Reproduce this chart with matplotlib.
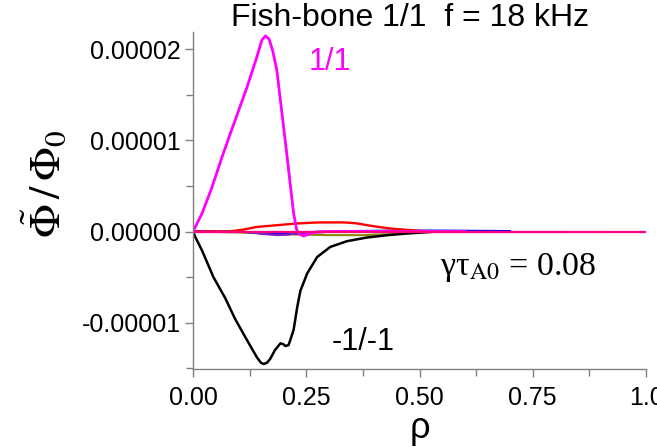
import matplotlib
matplotlib.use("Agg")
import matplotlib.pyplot as plt
from matplotlib.ticker import MultipleLocator, FormatStrFormatter

plt.rcParams['font.family'] = ['Liberation Sans', 'DejaVu Sans']
plt.rcParams['mathtext.fontset'] = 'stix'

# ---- data (values in units of 1e-5) ----
rho_11 = [0, 0.02, 0.04, 0.067, 0.09, 0.119, 0.14, 0.152, 0.16, 0.168, 0.176, 0.185,
          0.195, 0.207, 0.215, 0.222, 0.229, 0.236, 0.244, 0.255, 0.265, 0.30, 0.45, 0.60]
phi_11 = [0, 0.20, 0.46, 0.86, 1.18, 1.58, 1.90, 2.10, 2.145, 2.11, 1.98, 1.77,
          1.35, 0.85, 0.50, 0.20, 0.015, -0.03, -0.05, -0.03, -0.01, 0, 0, 0]

rho_m1 = [0, 0.005, 0.02, 0.045, 0.071, 0.093, 0.119, 0.141, 0.150, 0.156, 0.163, 0.170, 0.181,
          0.193, 0.199, 0.204, 0.211, 0.222, 0.230, 0.237, 0.252, 0.274, 0.303, 0.34,
          0.384, 0.43, 0.472, 0.54]
phi_m1 = [0, -0.06, -0.21, -0.50, -0.73, -0.96, -1.19, -1.38, -1.44, -1.453, -1.44, -1.40, -1.30,
          -1.227, -1.235, -1.256, -1.245, -1.08, -0.83, -0.65, -0.46, -0.28, -0.169, -0.106,
          -0.066, -0.04, -0.022, 0]

rho_red = [0, 0.08, 0.11, 0.141, 0.185, 0.229, 0.274, 0.333, 0.36, 0.398, 0.435, 0.472, 0.51, 0.55]
phi_red = [0, 0.0, 0.02, 0.05, 0.069, 0.088, 0.099, 0.100, 0.09, 0.058, 0.033, 0.018, 0.005, 0]

rho_blue = [0, 0.10, 0.14, 0.18, 0.22, 0.26, 0.35, 0.45, 0.55, 0.70]
phi_blue = [0, 0, -0.015, -0.025, -0.025, -0.01, 0.005, 0.01, 0.01, 0.005]

rho_purp = [0, 0.12, 0.15, 0.185, 0.21, 0.235, 0.28, 0.40]
phi_purp = [0, -0.005, -0.025, -0.04, -0.035, -0.015, 0, 0]

rho_olive = [0, 0.10, 0.20, 0.30, 0.38, 0.45, 0.50]
phi_olive = [0, -0.01, -0.03, -0.04, -0.04, -0.025, 0]

rho_steel = [0.30, 0.50, 0.70, 0.91]
phi_steel = [0, 0, 0, 0]

rho_maroon = [0, 0.25, 0.50, 0.817]
phi_maroon = [0, 0, 0, 0]

rho_pink = [0, 0.25, 0.50, 0.75, 1.0]
phi_pink = [0, 0, 0, 0, 0]

xtick_vals = [0, 0.25, 0.5, 0.75, 1.0]
xtick_labels = ['0.00', '0.25', '0.50', '0.75', '1.0']

scale = 1e-5

fig = plt.figure(figsize=(6.57, 4.47), dpi=100)
ax = fig.add_axes([0.2938, 0.1745, 0.6895, 0.7535])

def s(v):
    return [x * scale for x in v]

ax.plot(rho_olive, s(phi_olive), color='#8a8a00', lw=1.5)
ax.plot(rho_steel, s(phi_steel), color='#6b80b8', lw=1.5)
ax.plot(rho_blue, s(phi_blue), color='#0000ff', lw=1.5)
ax.plot(rho_purp, s(phi_purp), color='#8020c0', lw=1.5)
ax.plot(rho_maroon, s(phi_maroon), color='#c02060', lw=1.5)
ax.plot(rho_red, s(phi_red), color='#ff0000', lw=1.7)
ax.plot(rho_m1, s(phi_m1), color='black', lw=1.8)
ax.plot(rho_11, s(phi_11), color='#ff00ff', lw=2.0)
ax.plot(rho_pink, s(phi_pink), color='#ff0080', lw=1.6)

ax.set_xlim(0, 1.0)
ax.set_ylim(-1.508e-5, 2.186e-5)
ax.xaxis.set_minor_locator(MultipleLocator(0.125))
ax.yaxis.set_major_locator(MultipleLocator(1e-5))
ax.yaxis.set_minor_locator(MultipleLocator(0.5e-5))
ax.yaxis.set_major_formatter(FormatStrFormatter('%.5f'))
ax.set_xticks(xtick_vals)
ax.set_xticklabels(xtick_labels)

for sp in ['top', 'right']:
    ax.spines[sp].set_visible(False)
for sp in ['left', 'bottom']:
    ax.spines[sp].set_color('#808080')
    ax.spines[sp].set_linewidth(1.0)
ax.tick_params(which='both', direction='out', color='#808080', width=1.0, labelsize=18)
ax.tick_params(which='major', length=6)
ax.tick_params(which='minor', length=5)
ax.tick_params(axis='y', pad=3)
ax.tick_params(axis='x', pad=6)

ax.set_xlabel('ρ', fontsize=26, labelpad=1)
fig.text(0.068, 0.59, r'$\tilde{\Phi}\,/\,\Phi_0$', rotation=90, fontsize=32,
         ha='center', va='center')

fig.text(410 / 657, 1 - 18 / 447, 'Fish-bone 1/1  f = 18 kHz', fontsize=23,
         ha='center', va='center')
ax.text(0.255, 1.86e-5, '1/1', color='#ff00ff', fontsize=22, ha='left', va='center')
ax.text(0.305, -1.21e-5, '-1/-1', color='black', fontsize=22, ha='left', va='center')
ax.text(0.545, -0.39e-5, r'γτ$_{\mathrm{A0}}$ = 0.08', fontsize=24.5,
        family=['Liberation Serif', 'DejaVu Serif'], math_fontfamily='stix',
        ha='left', va='center')

fig.savefig('out.png', dpi=100)
